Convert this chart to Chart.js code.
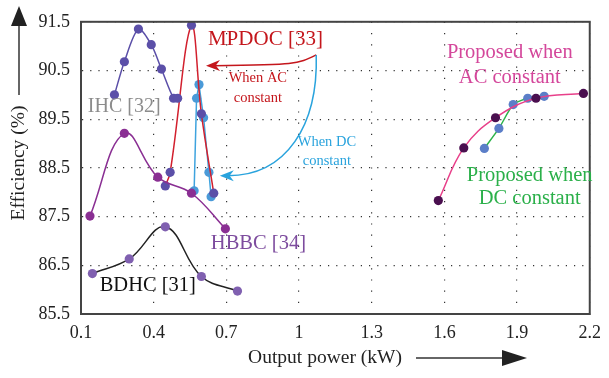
<!DOCTYPE html>
<html>
<head>
<meta charset="utf-8">
<script src="https://cdn.jsdelivr.net/npm/chart.js@4/dist/chart.umd.min.js"></script>
<style>
  html, body { margin: 0; padding: 0; background: #fff; }
  #wrap { width: 609px; height: 378px; }
</style>
</head>
<body>
<div id="wrap"><canvas id="myChart" width="609" height="378"></canvas></div>
<script>
// tick labels
const xTicks = [0.1, 0.4, 0.7, 1, 1.3, 1.6, 1.9, 2.2];
const yTicks = [85.5, 86.5, 87.5, 88.5, 89.5, 90.5, 91.5];

// series
const ihcX = [0.238, 0.279, 0.337, 0.39, 0.432, 0.482, 0.499];
const ihcY = [90.0, 90.68, 91.35, 91.03, 90.53, 89.93, 89.93];
const mpdocX = [0.448, 0.468, 0.556, 0.597, 0.648];
const mpdocY = [88.13, 88.41, 91.43, 89.61, 87.98];
const mpdocDcX = [0.567, 0.577, 0.587, 0.606, 0.628, 0.637];
const mpdocDcY = [88.03, 89.93, 90.21, 89.53, 88.41, 87.91];
const hbbcX = [0.137, 0.279, 0.417, 0.556, 0.696];
const hbbcY = [87.51, 89.21, 88.31, 87.98, 87.25];
const bdhcX = [0.147, 0.299, 0.448, 0.597, 0.746];
const bdhcY = [86.33, 86.63, 87.29, 86.27, 85.97];
const propAcX = [1.575, 1.68, 1.811, 1.978, 2.174];
const propAcY = [87.83, 88.91, 89.53, 89.93, 90.03];
const propDcX = [1.765, 1.825, 1.884, 1.944, 2.012];
const propDcY = [88.9, 89.31, 89.8, 89.93, 89.97];

const pts = (xs, ys) => xs.map((x, i) => ({ x: x, y: ys[i] }));
const serif = '"Liberation Serif", "DejaVu Serif", serif';

function series(label, xs, ys, line, dot, tension) {
    return {
        label: label,
        data: pts(xs, ys),
        showLine: true,
        borderColor: line,
        borderWidth: 1.5,
        backgroundColor: dot,
        pointBackgroundColor: dot,
        pointBorderWidth: 0,
        pointRadius: 4.6,
        tension: tension
    };
}

// labels and arrows, placed in data units
const notes = [
    { text: 'IHC [32]', x: 0.128, y: 89.76, color: '#8c8c8c', size: 20, align: 'left' },
    { text: 'MPDOC [33]', x: 0.624, y: 91.14, color: '#c4161c', size: 21, align: 'left' },
    { text: 'When AC', x: 0.83, y: 90.34, color: '#c4161c', size: 14.5, align: 'center' },
    { text: 'constant', x: 0.83, y: 89.94, color: '#c4161c', size: 14.5, align: 'center' },
    { text: 'When DC', x: 1.115, y: 89.02, color: '#29a3dd', size: 14.5, align: 'center' },
    { text: 'constant', x: 1.115, y: 88.64, color: '#29a3dd', size: 14.5, align: 'center' },
    { text: 'HBBC [34]', x: 0.636, y: 86.94, color: '#7d4c9e', size: 20.5, align: 'left' },
    { text: 'BDHC [31]', x: 0.177, y: 86.08, color: '#111', size: 20.5, align: 'left' },
    { text: 'Proposed when', x: 1.87, y: 90.86, color: '#d4479b', size: 20.5, align: 'center' },
    { text: 'AC constant', x: 1.87, y: 90.36, color: '#d4479b', size: 20.5, align: 'center' },
    { text: 'Proposed when', x: 1.952, y: 88.34, color: '#2bb04a', size: 20.5, align: 'center' },
    { text: 'DC constant', x: 1.952, y: 87.86, color: '#2bb04a', size: 20.5, align: 'center' }
];
const arrows = [
    { color: '#c4161c', p: [[1.071, 90.82], [0.99, 90.62], [0.99, 90.62], [0.616, 90.6]] },
    { color: '#29a3dd', p: [[1.071, 90.82], [1.079, 89.38], [0.949, 88.34], [0.673, 88.34]] }
];

function head(ctx, x, y, fx, fy, color) {
    const a = Math.atan2(y - fy, x - fx);
    const len = 14, w = 5.5;
    ctx.fillStyle = color;
    ctx.beginPath();
    ctx.moveTo(x, y);
    ctx.lineTo(x - len * Math.cos(a) + w * Math.sin(a), y - len * Math.sin(a) - w * Math.cos(a));
    ctx.lineTo(x - len * 0.7 * Math.cos(a), y - len * 0.7 * Math.sin(a));
    ctx.lineTo(x - len * Math.cos(a) - w * Math.sin(a), y - len * Math.sin(a) + w * Math.cos(a));
    ctx.closePath();
    ctx.fill();
}

const decor = {
    id: 'decor',
    afterDraw(chart) {
        const ctx = chart.ctx;
        const a = chart.chartArea;
        const sx = chart.scales.x, sy = chart.scales.y;
        ctx.save();
        // frame
        ctx.strokeStyle = '#444';
        ctx.lineWidth = 2;
        ctx.strokeRect(a.left, a.top, a.right - a.left, a.bottom - a.top);

        // arrows
        arrows.forEach(ar => {
            const p = ar.p.map(q => [sx.getPixelForValue(q[0]), sy.getPixelForValue(q[1])]);
            ctx.strokeStyle = ar.color;
            ctx.lineWidth = 1.5;
            ctx.beginPath();
            ctx.moveTo(p[0][0], p[0][1]);
            ctx.bezierCurveTo(p[1][0], p[1][1], p[2][0], p[2][1], p[3][0] + 8, p[3][1]);
            ctx.stroke();
            head(ctx, p[3][0], p[3][1], p[2][0], p[2][1], ar.color);
        });

        // series labels
        ctx.textBaseline = 'middle';
        notes.forEach(n => {
            ctx.font = n.size + 'px ' + serif;
            ctx.fillStyle = n.color;
            ctx.textAlign = n.align;
            ctx.fillText(n.text, sx.getPixelForValue(n.x), sy.getPixelForValue(n.y));
        });

        // axis titles with arrows
        ctx.fillStyle = '#222';
        ctx.strokeStyle = '#333';
        ctx.lineWidth = 1.5;
        ctx.font = '19.5px ' + serif;
        ctx.textAlign = 'center';
        ctx.fillText('Output power (kW)', 325, 358);
        ctx.beginPath();
        ctx.moveTo(416, 358);
        ctx.lineTo(512, 358);
        ctx.stroke();
        ctx.beginPath();
        ctx.moveTo(527, 358);
        ctx.lineTo(502, 350);
        ctx.lineTo(502, 366);
        ctx.closePath();
        ctx.fill();

        ctx.save();
        ctx.translate(19, 163);
        ctx.rotate(-Math.PI / 2);
        ctx.fillText('Efficiency (%)', 0, 0);
        ctx.restore();
        ctx.beginPath();
        ctx.moveTo(19, 95);
        ctx.lineTo(19, 20);
        ctx.stroke();
        ctx.beginPath();
        ctx.moveTo(19, 6);
        ctx.lineTo(11, 26);
        ctx.lineTo(27, 26);
        ctx.closePath();
        ctx.fill();
        ctx.restore();
    }
};

const ctx = document.getElementById('myChart').getContext('2d');
new Chart(ctx, {
    type: 'scatter',
    data: {
        datasets: [
            series('IHC [32]', ihcX, ihcY, '#5b4fa8', '#5b4fa8', 0.3),
            series('HBBC [34]', hbbcX, hbbcY, '#8a2f93', '#8a2f93', 0.4),
            series('MPDOC [33]', mpdocX, mpdocY, '#d2202e', '#5b4fa8', 0.4),
            series('MPDOC [33] DC', mpdocDcX, mpdocDcY, '#3ea3de', '#4a9ad8', 0),
            series('BDHC [31]', bdhcX, bdhcY, '#222', '#8060b0', 0.4),
            series('Proposed AC', propAcX, propAcY, '#e8408a', '#4a0f4f', 0.4),
            series('Proposed DC', propDcX, propDcY, '#2db34a', '#5b7ec8', 0.2)
        ]
    },
    options: {
        responsive: false,
        animation: false,
        layout: { padding: { top: 14, right: 11, left: 0, bottom: 0 } },
        plugins: { legend: { display: false }, tooltip: { enabled: false } },
        scales: {
            x: {
                type: 'linear',
                min: 0.1,
                max: 2.2,
                afterBuildTicks: s => { s.ticks = xTicks.map(v => ({ value: v })); },
                afterFit: s => { s.height = 64; },
                grid: { color: '#333', lineWidth: 1.2, drawTicks: false },
                border: { color: '#222', width: 2, dash: [1.2, 10] },
                ticks: {
                    color: '#222',
                    padding: 8,
                    maxRotation: 0,
                    font: { family: serif, size: 18 },
                    callback: v => String(v)
                }
            },
            y: {
                type: 'linear',
                min: 85.5,
                max: 91.5,
                afterBuildTicks: s => { s.ticks = yTicks.map(v => ({ value: v })); },
                afterFit: s => { s.width = 81; },
                grid: { color: '#333', lineWidth: 1.2, drawTicks: false },
                border: { color: '#222', width: 2, dash: [1.2, 7] },
                ticks: {
                    color: '#222',
                    padding: 11,
                    font: { family: serif, size: 18 },
                    callback: v => v.toFixed(1)
                }
            }
        }
    },
    plugins: [decor]
});
</script>
</body>
</html>
